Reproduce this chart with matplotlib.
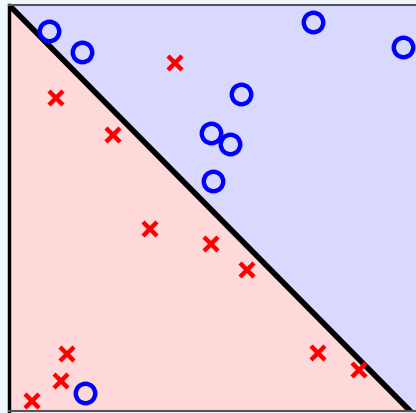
import numpy as np
import matplotlib.pyplot as plt

# data (axes units 0..1)
blue_x = [0.100, 0.182, 0.758, 0.983, 0.579, 0.504, 0.551, 0.509, 0.190]
blue_y = [0.936, 0.884, 0.958, 0.897, 0.781, 0.685, 0.658, 0.567, 0.044]
red_x = [0.414, 0.117, 0.259, 0.352, 0.504, 0.594, 0.145, 0.130, 0.057, 0.771, 0.873]
red_y = [0.857, 0.771, 0.680, 0.448, 0.411, 0.347, 0.140, 0.074, 0.025, 0.143, 0.101]
boundary_x = [0.0, 1.0]
boundary_y = [1.0, 0.0]

fig = plt.figure(figsize=(4.16, 4.14), dpi=100)
fig.patch.set_facecolor("#f0f8ff")
ax = fig.add_axes([9 / 416, 2 / 414, 1 - 9 / 416 + 0.01, 406 / 414])
xmax = 1.025
ax.set_xlim(0, xmax)
ax.set_ylim(0, 1)

xs = np.array([0.0, xmax])
line = 1 - xs
ax.fill_between(xs, 0, line, color="#ffd9d9", zorder=0)
ax.fill_between(xs, line, 1, color="#d9d9ff", zorder=0)

ax.plot(boundary_x, boundary_y, color="black", lw=4, zorder=2)
ax.plot(red_x, red_y, "x", color="red", ms=10, mew=3.2, zorder=3)
ax.plot(blue_x, blue_y, "o", mfc="none", mec="blue", ms=14, mew=3.2, zorder=3)

ax.set_xticks([])
ax.set_yticks([])
ax.spines["right"].set_visible(False)
ax.spines["left"].set_color("black")
ax.spines["left"].set_linewidth(2.5)
ax.spines["top"].set_color("#555555")
ax.spines["bottom"].set_color("#555555")
ax.spines["top"].set_linewidth(1.5)
ax.spines["bottom"].set_linewidth(1.5)

fig.savefig("out.png", dpi=100)
